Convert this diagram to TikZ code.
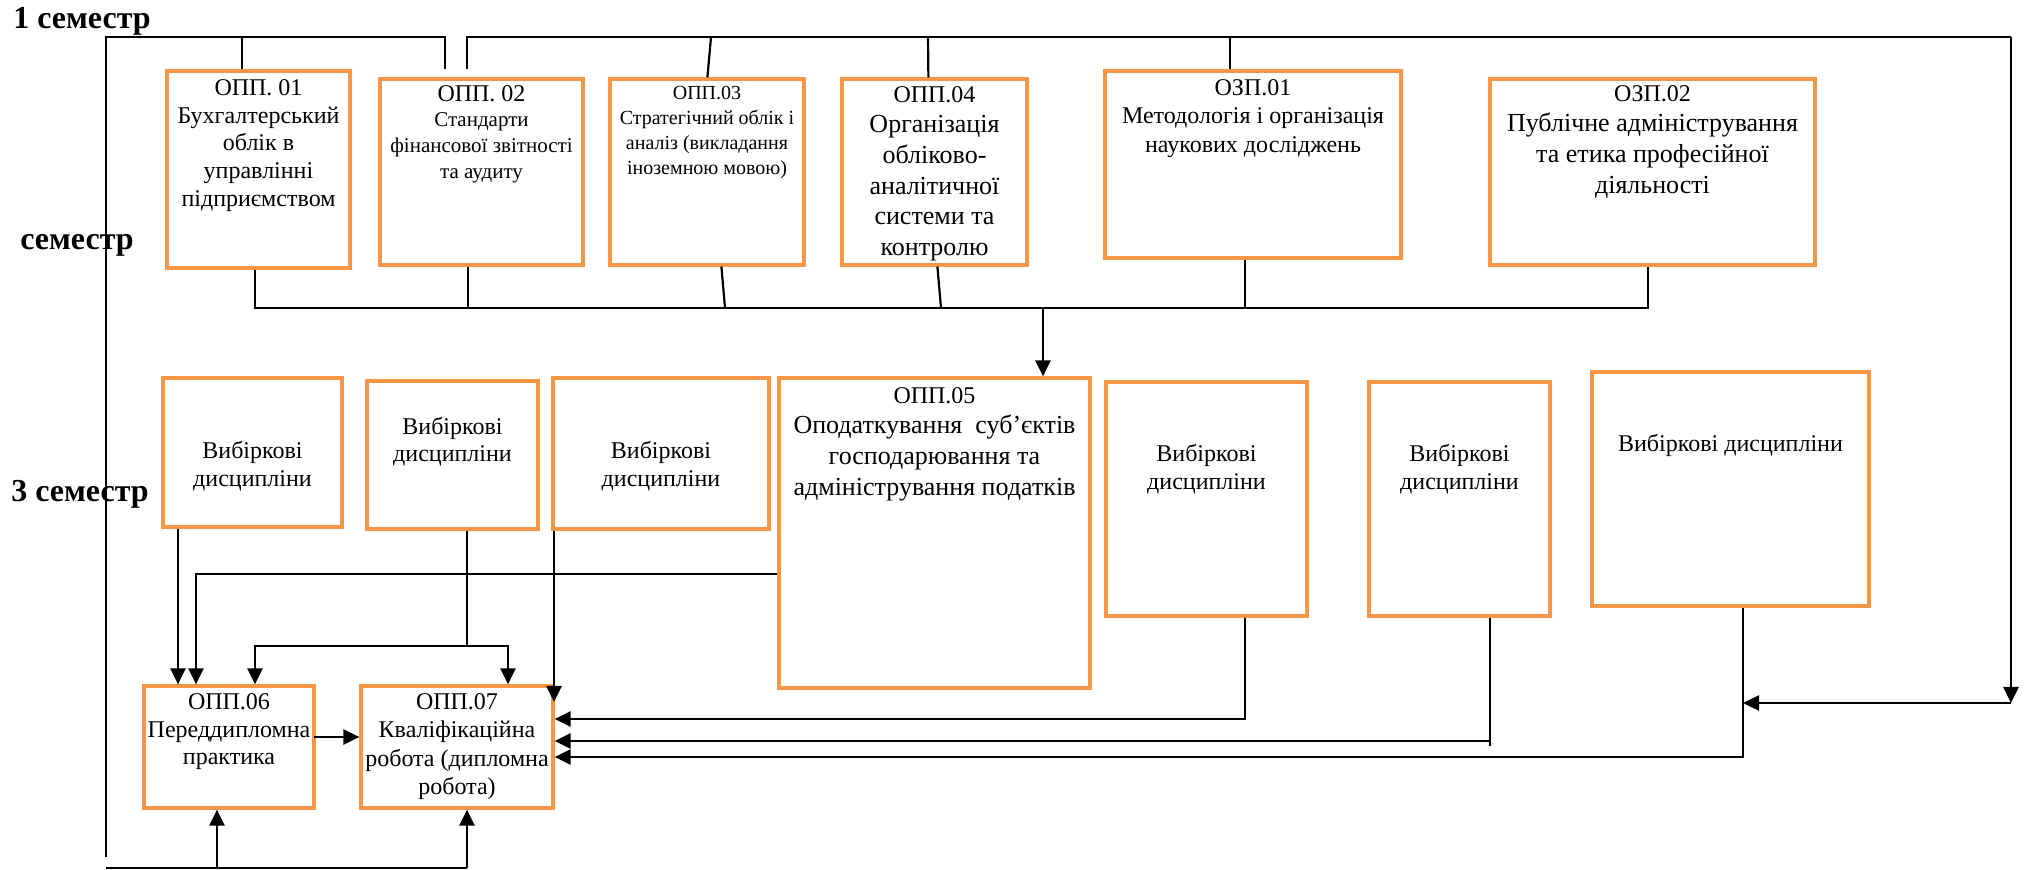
\documentclass[tikz,border=0pt]{standalone}
\usepackage{fontspec}
\setmainfont{Liberation Serif}
\usetikzlibrary{arrows.meta,calc,fit}
\definecolor{obox}{RGB}{247,150,70}
\begin{document}
\begin{tikzpicture}[x=0.5pt,y=-0.5pt,
  obx/.style={draw=obox, line width=1.6pt, inner sep=0pt, rectangle},
  txt/.style={anchor=north, align=center, inner sep=0pt},
  ln/.style={line width=1.1pt},
  arr/.style={line width=1.3pt, -{Triangle[length=8pt,width=7.5pt]}},
  sem/.style={font=\bfseries\fontsize{16}{18}\selectfont, inner sep=0pt, anchor=base west},
  f12/.style={font=\fontsize{12}{13.9}\selectfont},
  f13/.style={font=\fontsize{13}{15.3}\selectfont}]
\useasboundingbox (0,0) rectangle (2029,870);

% ---------- boxes ----------
\node[obx, fit={(167,71) (350,268)}] (o1) {};
\node[obx, fit={(380,79) (583,265)}] (o2) {};
\node[obx, fit={(610,79) (804,265)}] (o3) {};
\node[obx, fit={(842,79) (1027,265)}] (o4) {};
\node[obx, fit={(1105,71) (1401,258)}] (z1) {};
\node[obx, fit={(1490,79) (1815,265)}] (z2) {};
\node[obx, fit={(163,378) (342,527)}] (v1) {};
\node[obx, fit={(367,381) (538,529)}] (v2) {};
\node[obx, fit={(553,378) (769,529)}] (v3) {};
\node[obx, fit={(779,378) (1090,688)}] (o5) {};
\node[obx, fit={(1106,382) (1307,616)}] (v4) {};
\node[obx, fit={(1369,382) (1550,616)}] (v5) {};
\node[obx, fit={(1592,372) (1869,606)}] (v6) {};
\node[obx, fit={(144,686) (314,808)}] (o6) {};
\node[obx, fit={(361,686) (553,808)}] (o7) {};

% ---------- box texts ----------
\node[txt, f12] (t1) at (258.5,79) {ОПП. 01\\Бухгалтерський\\облік в\\управлінні\\підприємством};
\node[txt, font=\fontsize{10.5}{12.8}\selectfont] (t2) at (481.5,85) {{\fontsize{12}{12.8}\selectfont ОПП. 02}\\Стандарти\\фінансової звітності\\та аудиту};
\node[txt, font=\fontsize{10}{12.5}\selectfont] (t3) at (707,86) {ОПП.03\\Стратегічний облік і\\аналіз (викладання\\іноземною мовою)};
\node[txt, f13] (t4) at (934.5,86) {{\fontsize{12}{15.3}\selectfont ОПП.04}\\Організація\\обліково-\\аналітичної\\системи та\\контролю};
\node[txt, font=\fontsize{12}{14.25}\selectfont] (tz1) at (1253,79) {ОЗП.01\\Методологія і організація\\наукових досліджень};
\node[txt, f13] (tz2) at (1652.5,85) {{\fontsize{12}{15.2}\selectfont ОЗП.02}\\Публічне адміністрування\\та етика професійної\\діяльності};
\node[txt, f12] (tv1) at (252.5,441) {Вибіркові\\дисципліни};
\node[txt, font=\fontsize{12}{13.5}\selectfont] (tv2) at (452.5,417) {Вибіркові\\дисципліни};
\node[txt, f12] (tv3) at (661,441) {Вибіркові\\дисципліни};
\node[txt, f13] (t5) at (934.5,387) {{\fontsize{12}{15.3}\selectfont ОПП.05}\\Оподаткування\ \ суб’єктів\\господарювання та\\адміністрування податків};
\node[txt, f12] (tv4) at (1206.5,444) {Вибіркові\\дисципліни};
\node[txt, f12] (tv5) at (1459.5,444) {Вибіркові\\дисципліни};
\node[txt, f12] (tv6) at (1730.5,434) {Вибіркові дисципліни};
\node[txt, f12] (t6) at (229,693) {ОПП.06\\Переддипломна\\практика};
\node[txt, font=\fontsize{12}{14.2}\selectfont] (t7) at (457,693) {ОПП.07\\Кваліфікаційна\\робота (дипломна\\робота)};

% ---------- top frame ----------
\coordinate (tl) at (106,37);
\coordinate (bl) at (106,857);
\coordinate (tA) at (445,37);
\coordinate (tB) at (467,37);
\coordinate (tr) at (2011,37);
\coordinate (c1) at (242,37);
\coordinate (c3) at (711,37);
\coordinate (c4) at (928,37);
\coordinate (c5) at (1230,37);
\draw[ln] (bl) -- (tl) -- (tA) -- (tA |- o1.north);
\draw[ln] (c1) -- (c1 |- o1.north);
\draw[ln] (tB |- o1.north) -- (tB) -- (tr);
\draw[ln] (c3) -- ($(o3.north west)+(99,0)$);
\draw[ln] (c4) -- ($(o4.north west)+(88,0)$);
\draw[ln] (c5) -- (c5 |- z1.north);
\draw[ln] ($(z2.north east)+(0,80)$) -- ($(z2.north east)+(0,80)$ -| tr);

% ---------- bus under row 1 ----------
\coordinate (busL) at (255,308);
\coordinate (busR) at (1648,308);
\coordinate (b2) at (468,308);
\coordinate (b3) at (725,308);
\coordinate (b4) at (941,308);
\coordinate (b5) at (1245,308);
\coordinate (b6) at (1043,308);
\draw[ln] (o1.south -| busL) -- (busL) -- (busR) -- (busR |- z2.south);
\draw[ln] (b2 |- o2.south) -- (b2);
\draw[ln] ($(o3.south west)+(113,0)$) -- (b3);
\draw[ln] ($(o4.south west)+(97,0)$) -- (b4);
\draw[ln] (b5 |- z1.south) -- (b5);
\draw[arr] (b6) -- (b6 |- o5.north);

% ---------- row 2 connectors ----------
\coordinate (g1) at (178,600);
\draw[arr] (v1.south -| g1) -- (g1 |- o6.north);
\coordinate (l5) at (196,574);
\draw[arr] (l5 -| o5.west) -- (l5) -- (l5 |- o6.north);
\coordinate (m2) at (467,646);
\coordinate (m2l) at (255,646);
\coordinate (m2r) at (508,646);
\draw[ln] (v2.south -| m2) -- (m2);
\draw[arr] (m2) -- (m2l) -- (m2l |- o6.north);
\draw[arr] (m2) -- (m2r) -- (m2r |- o7.north);
\coordinate (x3) at (554,702);
\draw[arr] (v3.south -| x3) -- (x3);
\coordinate (a67) at (314,737);
\draw[arr] (a67) -- (a67 -| o7.west);
\coordinate (x4) at (1245,719);
\draw[arr] (v4.south -| x4) -- (x4) -- (x4 -| o7.east);
\coordinate (x5) at (1490,741);
\draw[ln] (v5.south -| x5) -- ($(x5)+(0,5)$);
\draw[arr] (x5) -- (x5 -| o7.east);
\coordinate (x6) at (1743,757);
\draw[arr] (v6.south -| x6) -- (x6) -- (x6 -| o7.east);
\coordinate (rc) at (2011,703);
\draw[arr] (tr) -- (rc);
\draw[arr] (rc) -- (rc -| x6);

% ---------- bottom line ----------
\coordinate (bb) at (106,868);
\coordinate (bbm) at (217,868);
\coordinate (bbR) at (467,868);
\draw[ln] (bb) -- (bbR);
\draw[arr] (bbm) -- (bbm |- o6.south);
\draw[arr] (bbR) -- (bbR |- o7.south);

% ---------- semester labels ----------
\node[sem] (s1) at (13,29) {1 семестр};
\node[sem] (s2) at (20,250) {семестр};
\node[sem] (s3) at (11,502) {3 семестр};
\end{tikzpicture}
\end{document}
